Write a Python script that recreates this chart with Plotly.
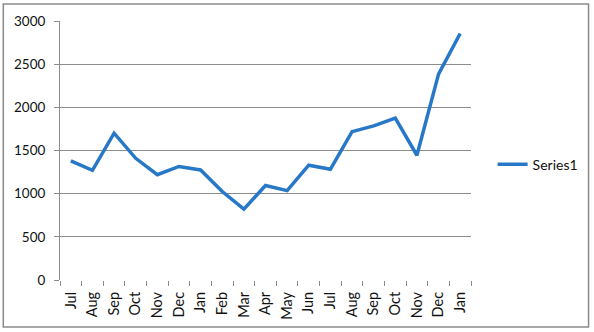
import plotly.graph_objects as go

months = ["Jul", "Aug", "Sep", "Oct", "Nov", "Dec", "Jan", "Feb", "Mar", "Apr",
          "May", "Jun", "Jul", "Aug", "Sep", "Oct", "Nov", "Dec", "Jan"]
series1 = [1380, 1270, 1700, 1410, 1220, 1315, 1275, 1025, 820, 1095,
           1035, 1330, 1282, 1718, 1785, 1875, 1445, 2385, 2855]
y_ticks = [0, 500, 1000, 1500, 2000, 2500, 3000]

idx = list(range(len(months)))
boundaries = [i - 0.5 for i in range(len(months) + 1)]

FONT = "Lato, Calibri, Arial, sans-serif"
GRID = "#8c8c8c"

fig = go.Figure()
fig.add_trace(go.Scatter(
    x=idx, y=series1, mode="lines", name="Series1",
    line=dict(color="#2878c8", width=3.5),
))
# invisible trace on second x axis to carry boundary tick marks
fig.add_trace(go.Scatter(x=boundaries, y=[None] * len(boundaries), xaxis="x2",
                         showlegend=False, hoverinfo="skip"))

fig.update_layout(
    width=594, height=332,
    margin=dict(l=60, r=122, t=21, b=52),
    paper_bgcolor="white", plot_bgcolor="white",
    font=dict(family=FONT, color="#111111", size=14),
    xaxis=dict(
        range=[-0.5, len(months) - 0.5],
        tickmode="array", tickvals=idx, ticktext=months,
        tickangle=-90, ticks="", showgrid=False, zeroline=False,
        showline=False, tickfont=dict(size=14.5, family=FONT),
        ticklabelstandoff=8, automargin=False,
    ),
    xaxis2=dict(
        overlaying="x", side="bottom", matches="x",
        range=[-0.5, len(months) - 0.5],
        tickmode="array", tickvals=boundaries, ticktext=[""] * len(boundaries),
        ticks="outside", ticklen=5, tickcolor=GRID, tickwidth=1,
        showgrid=False, zeroline=False, showline=False, showticklabels=False,
        automargin=False,
    ),
    yaxis=dict(
        range=[0, 3000], tickmode="array", tickvals=y_ticks,
        showgrid=True, gridcolor=GRID, gridwidth=1,
        zeroline=False, showline=True, linecolor=GRID, linewidth=1,
        ticks="outside", ticklen=5, tickcolor=GRID,
        tickfont=dict(size=13.5, family=FONT), ticklabelstandoff=6,
        automargin=False,
    ),
    legend=dict(
        x=1.05, y=0.445, xanchor="left", yanchor="middle",
        font=dict(size=14, family=FONT), itemwidth=30,
        bgcolor="rgba(0,0,0,0)",
    ),
    shapes=[dict(
        type="rect", xref="paper", yref="paper",
        x0=-0.138, x1=1.286, y0=-0.181, y1=1.066,
        line=dict(color="#8a8a8a", width=1.5), fillcolor="rgba(0,0,0,0)",
        layer="below",
    )],
)

fig.write_html("out.html", config={"displayModeBar": False},
               post_script="document.body.style.margin='0';")
